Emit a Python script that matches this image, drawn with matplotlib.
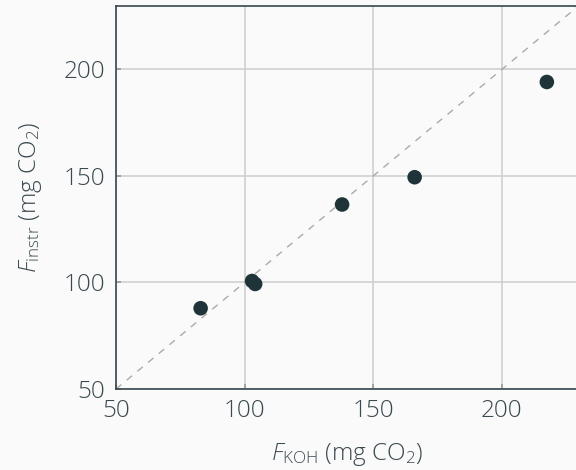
import matplotlib
matplotlib.use("Agg")
import matplotlib.pyplot as plt

F_koh = [82.9, 102.9, 104.1, 137.9, 166.1, 217.5]
F_instr = [87.9, 100.7, 99.3, 136.6, 149.4, 194.1]
x_ticks = [50, 100, 150, 200]
y_ticks = [50, 100, 150, 200]

text_color = "#3a4a50"
plt.rcParams['font.family'] = ['Open Sans', 'DejaVu Sans']
plt.rcParams['font.weight'] = 'light'
plt.rcParams['axes.labelweight'] = 'light'
plt.rcParams['mathtext.fontset'] = 'custom'
plt.rcParams['mathtext.rm'] = 'Open Sans:light'
plt.rcParams['mathtext.it'] = 'Open Sans:italic:light'

W, H = 576, 470
fig = plt.figure(figsize=(W/100, H/100), dpi=100, facecolor="#fafafa")
left, right, top, bottom = 116, 579, 5.5, 389
ax = fig.add_axes([left/W, 1-bottom/H, (right-left)/W, (bottom-top)/H])
ax.set_facecolor("#fafafa")
ax.set_xlim(50, 230)
ax.set_ylim(50, 230)
ax.plot([50, 230], [50, 230], ls=(0, (5, 5)), color="#aaaaaa", lw=1, zorder=2)
ax.scatter(F_koh, F_instr, s=110, color="#1f3438", zorder=3, edgecolors="none")
ax.set_xticks(x_ticks)
ax.set_yticks(y_ticks)
ax.grid(True, color="#d0d0d0", lw=1.2, zorder=1)
ax.set_axisbelow(True)
ax.tick_params(direction="in", length=3.5, width=1.2, color="#999999",
               labelsize=17.5, labelcolor=text_color)
ax.tick_params(axis="y", pad=8)
ax.tick_params(axis="x", pad=7)
for s in ax.spines.values():
    s.set_color("#37474f")
    s.set_linewidth(1.2)
ax.set_xlabel(r"$F_{\mathrm{KOH}}$ (mg CO$_2$)", fontsize=17.5, color=text_color,
              labelpad=13, fontweight="light")
ax.set_ylabel(r"$F_{\mathrm{instr}}$ (mg CO$_2$)", fontsize=17.5, color=text_color,
              labelpad=14, fontweight="light")
fig.savefig("out.png", dpi=100, facecolor="#fafafa")
